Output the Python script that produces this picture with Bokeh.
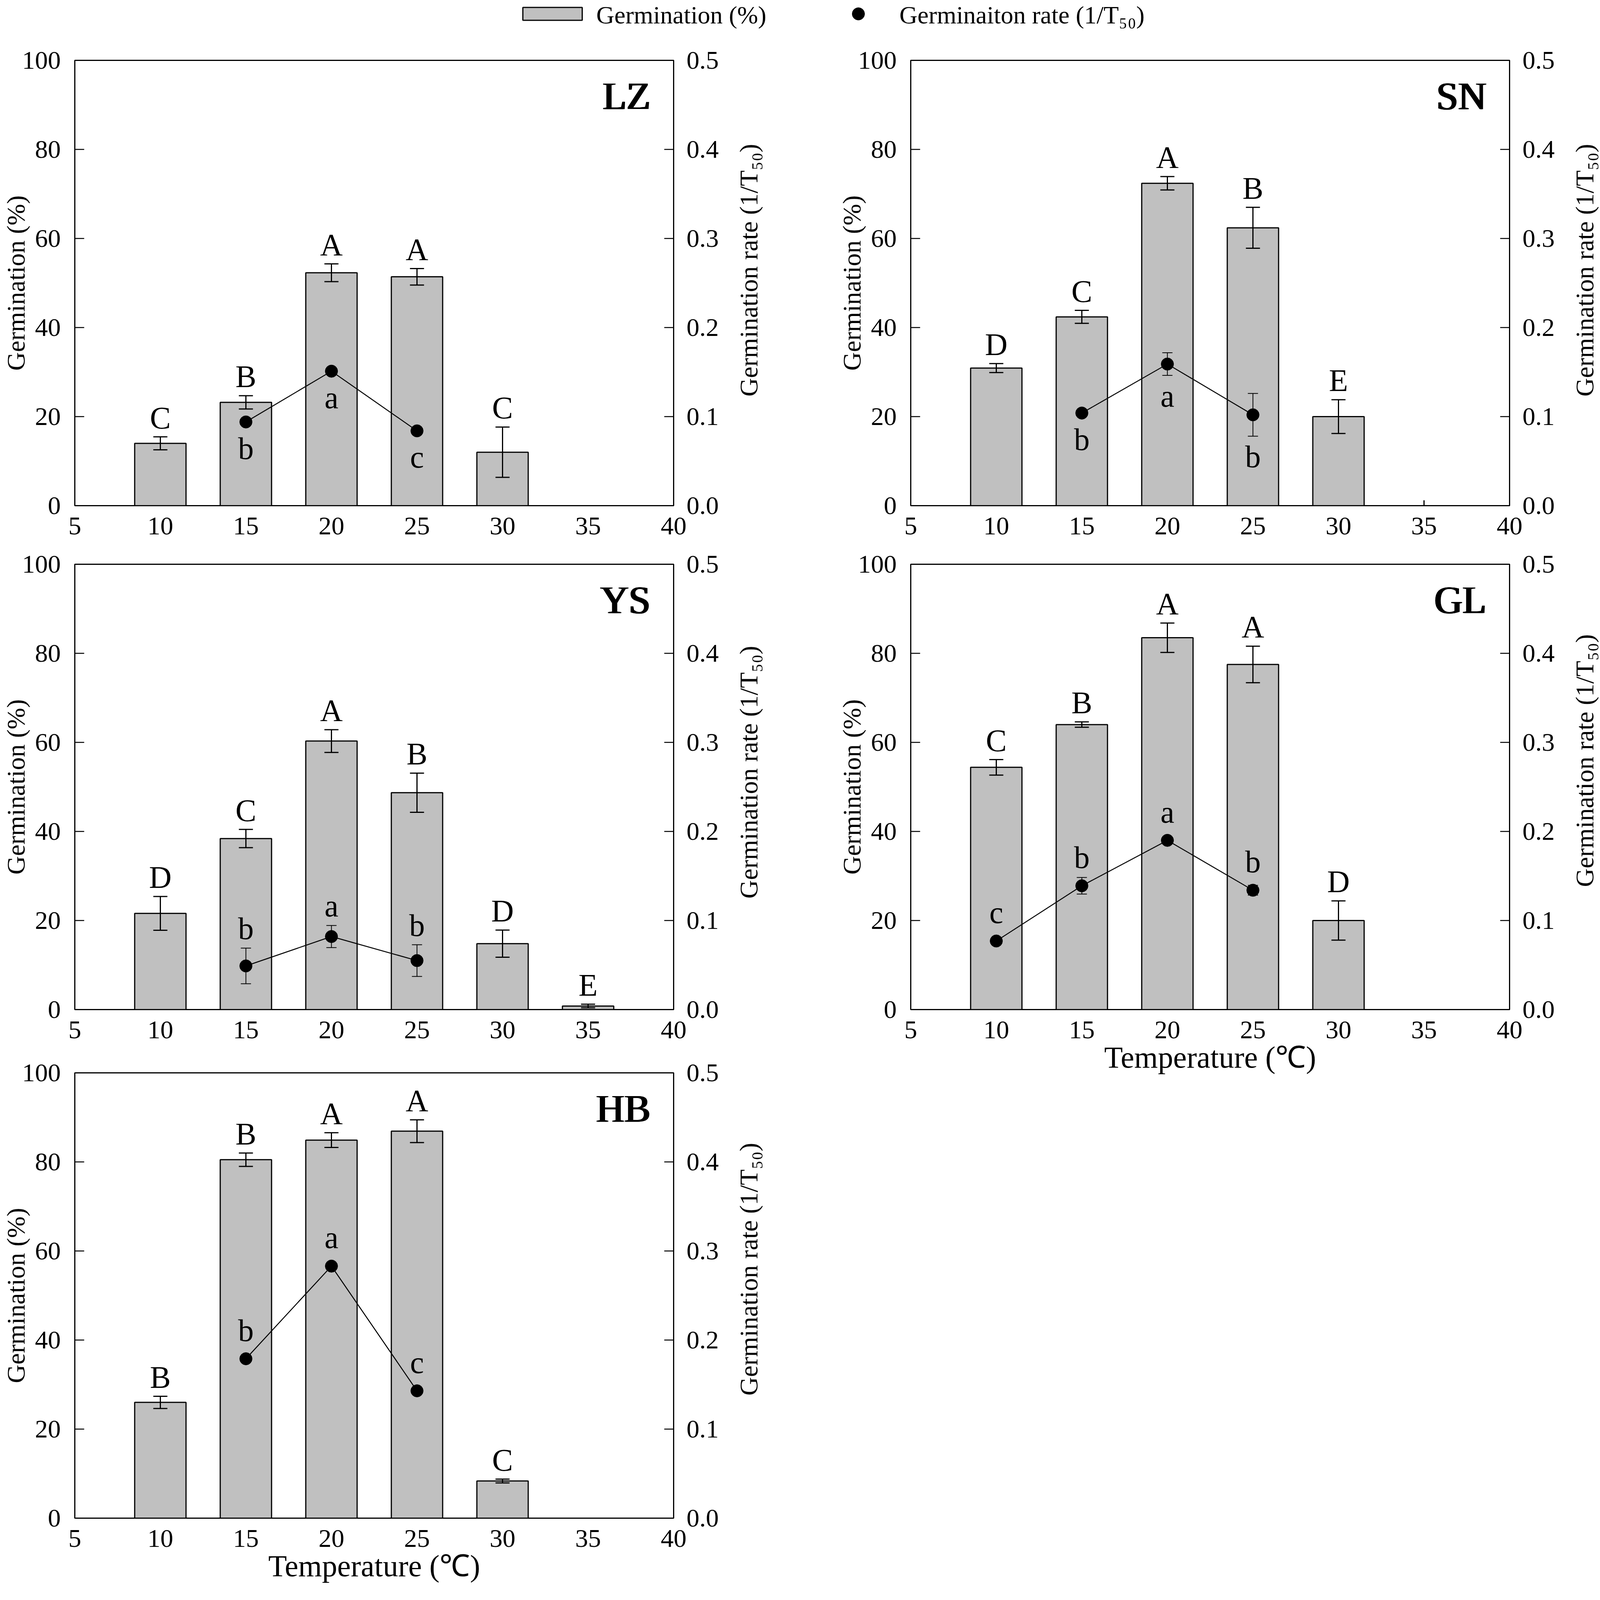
import math
from bokeh.plotting import figure
from bokeh.models import Range1d, LinearAxis, PrintfTickFormatter, FixedTicker
from bokeh.layouts import column, row
from bokeh.embed import file_html
from bokeh.resources import INLINE
from bokeh.core.properties import value

SERIF = "Liberation Serif"

# ---------------- data ----------------
temp_ticks = [5, 10, 15, 20, 25, 30, 35, 40]
germ_ticks = [0, 20, 40, 60, 80, 100]
rate_ticks = [0.0, 0.1, 0.2, 0.3, 0.4, 0.5]

lz_temp = [10, 15, 20, 25, 30]
lz_germ = [14.0, 23.2, 52.3, 51.4, 12.0]
lz_germ_err = [1.45, 1.5, 2.0, 1.85, 5.65]
lz_germ_let = ["C", "B", "A", "A", "C"]
lz_rate_temp = [15, 20, 25]
lz_rate = [0.094, 0.151, 0.084]
lz_rate_err = [0.0, 0.0, 0.004]
lz_rate_let = ["b", "a", "c"]

sn_temp = [10, 15, 20, 25, 30, 35]
sn_germ = [30.9, 42.4, 72.4, 62.4, 20.0, 0.0]
sn_germ_err = [1.0, 1.45, 1.5, 4.6, 3.8, 1.2]
sn_germ_let = ["D", "C", "A", "B", "E", ""]
sn_rate_temp = [15, 20, 25]
sn_rate = [0.104, 0.159, 0.102]
sn_rate_err = [0.0, 0.0127, 0.024]
sn_rate_let = ["b", "a", "b"]

ys_temp = [10, 15, 20, 25, 30, 35]
ys_germ = [21.6, 38.4, 60.3, 48.7, 14.8, 0.8]
ys_germ_err = [3.8, 2.05, 2.55, 4.4, 3.05, 0.4]
ys_germ_let = ["D", "C", "A", "B", "D", "E"]
ys_rate_temp = [15, 20, 25]
ys_rate = [0.049, 0.082, 0.055]
ys_rate_err = [0.020, 0.0124, 0.0178]
ys_rate_let = ["b", "a", "b"]

gl_temp = [10, 15, 20, 25, 30]
gl_germ = [54.4, 64.0, 83.5, 77.5, 20.0]
gl_germ_err = [1.75, 0.6, 3.3, 4.1, 4.4]
gl_germ_let = ["C", "B", "A", "A", "D"]
gl_rate_temp = [10, 15, 20, 25]
gl_rate = [0.077, 0.139, 0.190, 0.134]
gl_rate_err = [0.0, 0.0093, 0.0, 0.0055]
gl_rate_let = ["c", "b", "a", "b"]

hb_temp = [10, 15, 20, 25, 30]
hb_germ = [26.0, 80.5, 84.9, 86.9, 8.35]
hb_germ_err = [1.37, 1.5, 1.65, 2.55, 0.43]
hb_germ_let = ["B", "B", "A", "A", "C"]
hb_rate_temp = [15, 20, 25]
hb_rate = [0.179, 0.283, 0.143]
hb_rate_err = [0.0, 0.0, 0.0]
hb_rate_let = ["b", "a", "c"]

RATE_TITLE = "Germination rate (1/T₅₀)"

BAR_FILL = "#C0C0C0"
FRAME_W = 1536
FRAME_H = 1140
TOP_B = 38
LEFT_B = 188
RIGHT_B = 140
PCT_PER_PX = 100.0 / FRAME_H
LET_PX = 80
MID_SHIFT = 0.34 * LET_PX * PCT_PER_PX   # baseline -> text middle


def style_axis(ax, ticks, tick_in=24, standoff=34):
    ax.ticker = FixedTicker(ticks=ticks)
    ax.axis_line_color = None
    ax.major_tick_in = tick_in
    ax.major_tick_out = 0
    ax.minor_tick_line_color = None
    ax.major_tick_line_width = 2.5
    ax.major_tick_line_color = "black"
    ax.major_label_text_font = SERIF
    ax.major_label_text_font_size = "66px"
    ax.major_label_text_color = "black"
    ax.major_label_standoff = standoff


def style_title(ax, text, size, standoff):
    ax.axis_label = text
    ax.axis_label_text_font = SERIF
    ax.axis_label_text_font_size = size
    ax.axis_label_text_font_style = "normal"
    ax.axis_label_text_color = "black"
    ax.axis_label_standoff = standoff


def panel(name, g_t, g_v, g_e, g_l, r_t, r_v, r_e, r_l, r_pos,
          height, xlabel=False):
    width = LEFT_B + FRAME_W + RIGHT_B
    p = figure(width=width, height=height,
               x_range=Range1d(5, 40), y_range=Range1d(0, 100),
               output_backend="svg", toolbar_location=None,
               min_border_left=LEFT_B, min_border_right=RIGHT_B,
               min_border_top=TOP_B,
               min_border_bottom=height - TOP_B - FRAME_H)
    p.extra_y_ranges = {"rate": Range1d(0, 0.5)}
    p.grid.visible = False
    p.outline_line_color = "black"
    p.outline_line_width = 3
    p.background_fill_color = "white"
    p.border_fill_color = "white"

    style_axis(p.xaxis[0], temp_ticks, tick_in=0, standoff=30)
    style_axis(p.yaxis[0], germ_ticks, standoff=36)
    style_title(p.yaxis[0], "Germination (%)", "66px", -23)
    rax = LinearAxis(y_range_name="rate")
    style_axis(rax, rate_ticks, standoff=33)
    rax.formatter = PrintfTickFormatter(format="%.1f")
    p.add_layout(rax, "right")

    if xlabel:
        style_title(p.xaxis[0], "Temperature (℃)", "78px", 2)

    # bars
    bx = [t for t, v in zip(g_t, g_v) if v > 0]
    bv = [v for v in g_v if v > 0]
    p.vbar(x=bx, top=bv, bottom=0, width=3.0, fill_color=BAR_FILL,
           line_color="black", line_width=3)
    # bar error bars
    lo = [max(0.0, v - e) for v, e in zip(g_v, g_e)]
    hi = [v + e for v, e in zip(g_v, g_e)]
    p.segment(x0=g_t, y0=lo, x1=g_t, y1=hi, line_color="black", line_width=3)
    cx = [t for t, v in zip(g_t, g_v) if v > 0]
    clo = [l for l, v in zip(lo, g_v) if v > 0]
    chi = [h for h, v in zip(hi, g_v) if v > 0]
    p.scatter(x=cx + cx, y=clo + chi, marker="dash", size=36,
              line_color="black", line_width=3)
    # bar letters
    lt = [t for t, l in zip(g_t, g_l) if l]
    ly = [h + 1.9 + MID_SHIFT for h, l in zip(hi, g_l) if l]
    ll = [l for l in g_l if l]
    p.text(x=lt, y=ly, text=ll, text_align="center", text_baseline="middle",
           text_font=value(SERIF), text_font_size="80px", text_color="black")

    # germination rate
    p.line(x=r_t, y=r_v, y_range_name="rate", line_color="black", line_width=2.5)
    et = [t for t, e in zip(r_t, r_e) if e > 0]
    elo = [v - e for v, e in zip(r_v, r_e) if e > 0]
    ehi = [v + e for v, e in zip(r_v, r_e) if e > 0]
    if et:
        p.segment(x0=et, y0=elo, x1=et, y1=ehi, y_range_name="rate",
                  line_color="black", line_width=2)
        p.scatter(x=et + et, y=elo + ehi, marker="dash", size=26,
                  y_range_name="rate", line_color="black", line_width=2)
    p.scatter(x=r_t, y=r_v, y_range_name="rate", size=32,
              fill_color="black", line_color="black")
    ry = []
    for v, e in zip(r_v, r_e):
        vp, ep = v * 200.0, e * 200.0
        if r_pos == "below":
            ry.append((vp - max(ep, 1.3) - 7.0 + MID_SHIFT) / 200.0)
        else:
            ry.append((vp + max(ep, 2.0) + 2.0 + MID_SHIFT) / 200.0)
    p.text(x=r_t, y=ry, text=r_l, y_range_name="rate", text_align="center",
           text_baseline="middle", text_font=value(SERIF),
           text_font_size="80px", text_color="black")

    # panel name (heavier weight imitated by slight horizontal overprint)
    for dx in (0, 2, 4):
        p.text(x=[38.6], y=[89.0 + 0.34 * 100 * PCT_PER_PX], text=[name],
               x_offset=dx, text_align="right", text_baseline="middle",
               text_font=value(SERIF), text_font_size="100px",
               text_color="black")
    return p


def side_title(width, height):
    """Strip to the right of a panel carrying the rate title, bottom-to-top."""
    t = figure(width=width, height=height, x_range=Range1d(0, width),
               y_range=Range1d(0, height), output_backend="svg",
               toolbar_location=None, x_axis_type=None, y_axis_type=None,
               min_border=0)
    t.grid.visible = False
    t.outline_line_color = None
    frame_mid = (height - TOP_B - FRAME_H) + FRAME_H / 2.0
    t.text(x=[192 - RIGHT_B], y=[frame_mid], text=[RATE_TITLE],
           angle=math.pi / 2, text_align="center", text_baseline="middle",
           text_font=value(SERIF), text_font_size="66px", text_color="black")
    return t


LW = 2140
RW = 1974
PW = LEFT_B + FRAME_W + RIGHT_B
H1, H2, H3 = 1290, 1302, 1379
LEG_H = 116
lz = panel("LZ", lz_temp, lz_germ, lz_germ_err, lz_germ_let, lz_rate_temp,
           lz_rate, lz_rate_err, lz_rate_let, "below", H1)
ys = panel("YS", ys_temp, ys_germ, ys_germ_err, ys_germ_let, ys_rate_temp,
           ys_rate, ys_rate_err, ys_rate_let, "above", H2)
hb = panel("HB", hb_temp, hb_germ, hb_germ_err, hb_germ_let, hb_rate_temp,
           hb_rate, hb_rate_err, hb_rate_let, "above", H3, xlabel=True)
sn = panel("SN", sn_temp, sn_germ, sn_germ_err, sn_germ_let, sn_rate_temp,
           sn_rate, sn_rate_err, sn_rate_let, "below", H1)
gl = panel("GL", gl_temp, gl_germ, gl_germ_err, gl_germ_let, gl_rate_temp,
           gl_rate, gl_rate_err, gl_rate_let, "above", H3, xlabel=True)

left_col = column(row(lz, side_title(LW - PW, H1)),
                  row(ys, side_title(LW - PW, H2)),
                  row(hb, side_title(LW - PW, H3)))
right_col = column(row(sn, side_title(RW - PW, H1)),
                   row(gl, side_title(RW - PW, H3)))

# legend strip (page pixel coordinates)
leg = figure(width=LW + RW, height=LEG_H, x_range=Range1d(8, 8 + LW + RW),
             y_range=Range1d(8 + LEG_H, 8), output_backend="svg",
             toolbar_location=None, x_axis_type=None, y_axis_type=None,
             min_border=0)
leg.grid.visible = False
leg.outline_line_color = None
leg.rect(x=[1422], y=[43], width=[152], height=[33], fill_color=BAR_FILL,
         line_color="black", line_width=3)
leg.text(x=[1534], y=[46], text=["Germination (%)"], text_baseline="middle",
         text_align="left", text_font=value(SERIF), text_font_size="64px",
         text_color="black")
leg.scatter(x=[2205], y=[43], size=32, fill_color="black", line_color="black")
leg.text(x=[2310], y=[46], text=["Germinaiton rate (1/T₅₀)"],
         text_baseline="middle", text_align="left", text_font=value(SERIF),
         text_font_size="64px", text_color="black")

layout = column(leg, row(left_col, right_col))
open("out.html", "w").write(file_html(layout, INLINE))
